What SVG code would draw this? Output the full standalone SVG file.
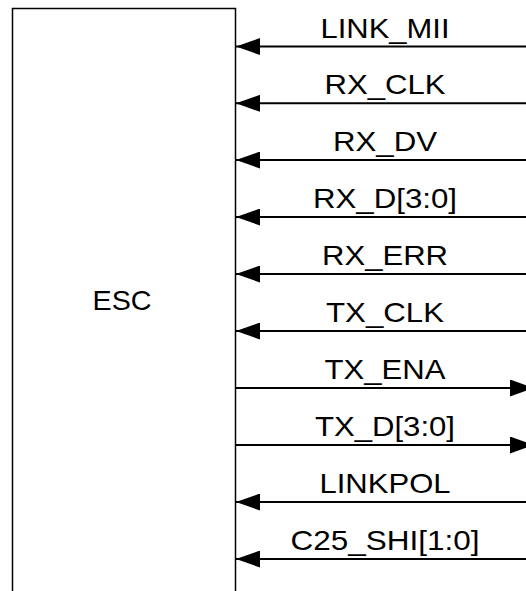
<svg xmlns="http://www.w3.org/2000/svg" width="526" height="591" viewBox="0 0 526 591">
  <style>
    .box { fill: #ffffff; stroke: #000000; stroke-width: 1.5; }
    .wire { stroke: #000000; stroke-width: 2; fill: none; }
    .lbl { font-family: "Liberation Sans", Arial, sans-serif; font-size: 28px; fill: #000000; text-anchor: middle; }
  </style>
  <defs>
    <marker id="arrow" viewBox="0 0 24 17" refX="24" refY="8.5" markerWidth="24" markerHeight="17" markerUnits="userSpaceOnUse" orient="auto">
      <path d="M0,0 L24,8.5 L0,17 Z" fill="#000000"/>
    </marker>
  </defs>
  <rect width="526" height="591" fill="#ffffff"/>

  <g id="esc">
    <path class="box" d="M12.5,600 L12.5,8.5 L235.5,8.5 L235.5,600"/>
    <text class="lbl" x="122" y="310" textLength="59" lengthAdjust="spacingAndGlyphs">ESC</text>
  </g>

  <g id="connectors">
    <line class="wire" x1="526" y1="46.5" x2="236" y2="46.5" marker-end="url(#arrow)"/>
    <line class="wire" x1="526" y1="103.3" x2="236" y2="103.3" marker-end="url(#arrow)"/>
    <line class="wire" x1="526" y1="160" x2="236" y2="160" marker-end="url(#arrow)"/>
    <line class="wire" x1="526" y1="217" x2="236" y2="217" marker-end="url(#arrow)"/>
    <line class="wire" x1="526" y1="274" x2="236" y2="274" marker-end="url(#arrow)"/>
    <line class="wire" x1="526" y1="331" x2="236" y2="331" marker-end="url(#arrow)"/>
    <line class="wire" x1="236" y1="388" x2="534" y2="388" marker-end="url(#arrow)"/>
    <line class="wire" x1="236" y1="445" x2="534" y2="445" marker-end="url(#arrow)"/>
    <line class="wire" x1="526" y1="502" x2="236" y2="502" marker-end="url(#arrow)"/>
    <line class="wire" x1="526" y1="559" x2="236" y2="559" marker-end="url(#arrow)"/>
  </g>

  <g id="labels">
    <text class="lbl" x="385" y="37.5" textLength="129" lengthAdjust="spacingAndGlyphs">LINK_MII</text>
    <text class="lbl" x="385" y="94.3" textLength="121" lengthAdjust="spacingAndGlyphs">RX_CLK</text>
    <text class="lbl" x="385" y="151" textLength="104" lengthAdjust="spacingAndGlyphs">RX_DV</text>
    <text class="lbl" x="385" y="208" textLength="144" lengthAdjust="spacingAndGlyphs">RX_D[3:0]</text>
    <text class="lbl" x="385" y="265" textLength="126" lengthAdjust="spacingAndGlyphs">RX_ERR</text>
    <text class="lbl" x="385" y="322" textLength="118" lengthAdjust="spacingAndGlyphs">TX_CLK</text>
    <text class="lbl" x="385" y="379" textLength="121" lengthAdjust="spacingAndGlyphs">TX_ENA</text>
    <text class="lbl" x="385" y="436" textLength="140" lengthAdjust="spacingAndGlyphs">TX_D[3:0]</text>
    <text class="lbl" x="385" y="493" textLength="131" lengthAdjust="spacingAndGlyphs">LINKPOL</text>
    <text class="lbl" x="385" y="550" textLength="189" lengthAdjust="spacingAndGlyphs">C25_SHI[1:0]</text>
  </g>
</svg>
